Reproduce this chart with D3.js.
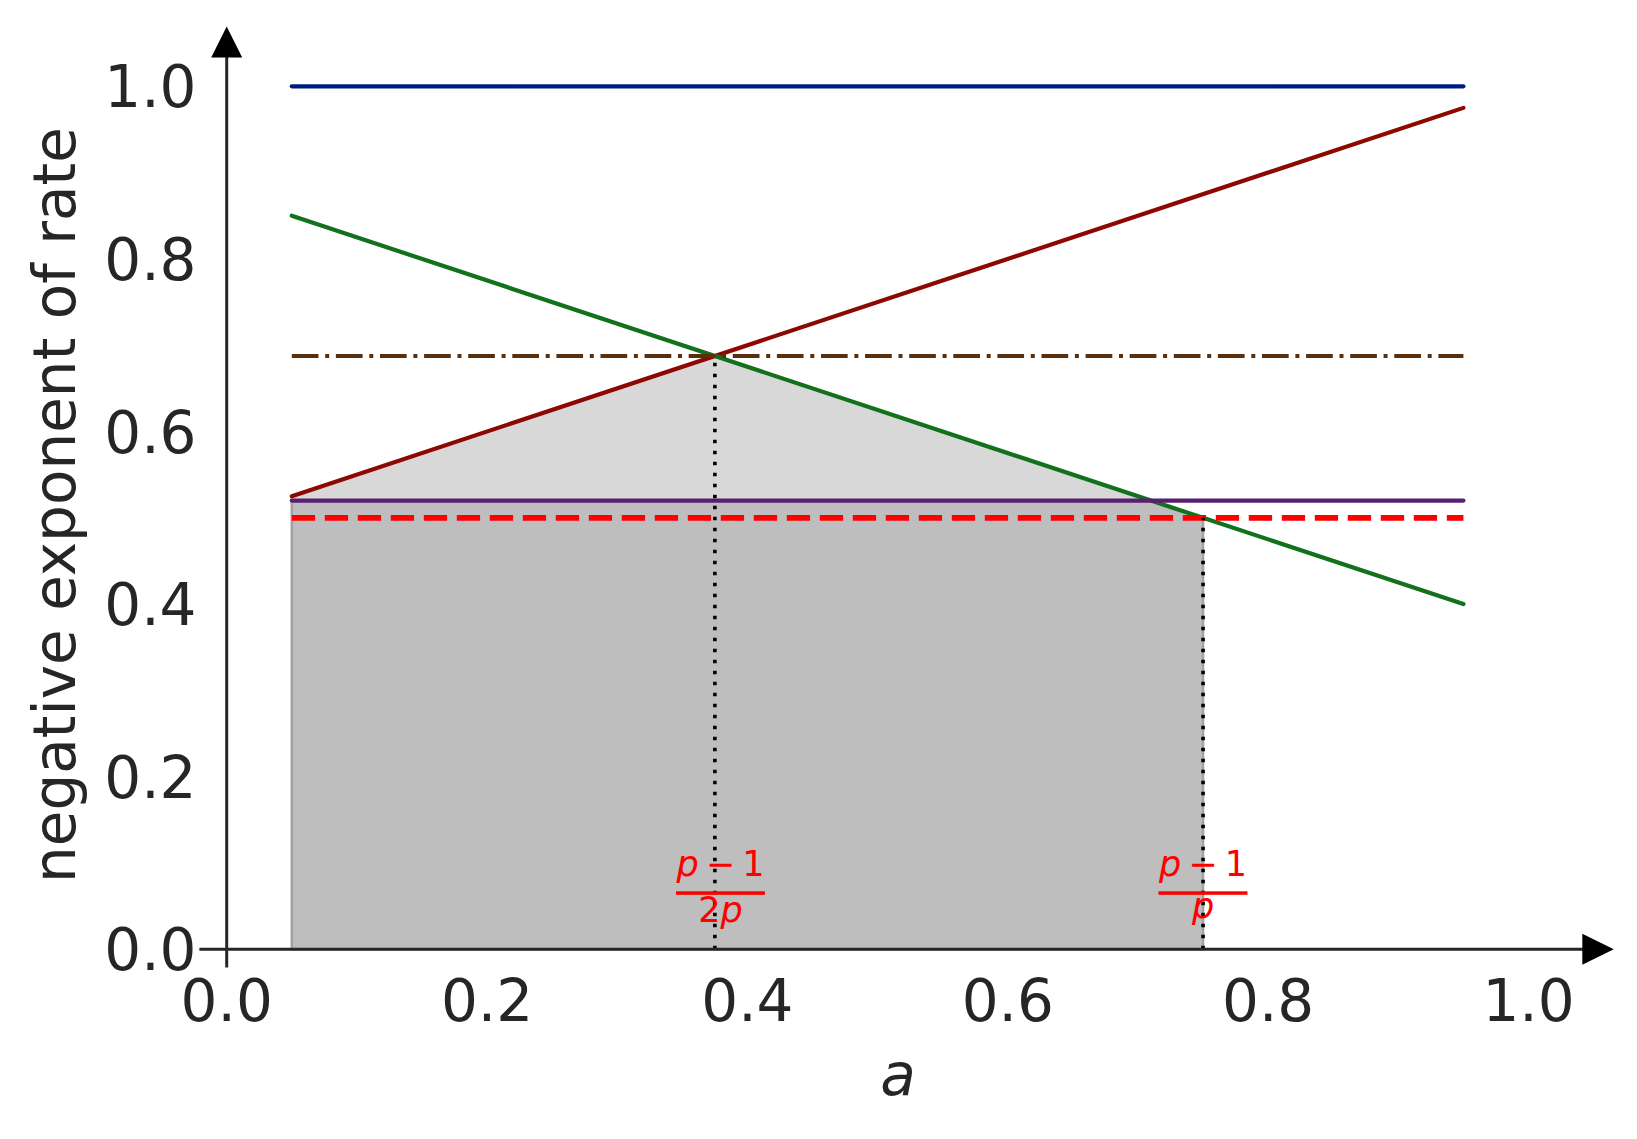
<!DOCTYPE html>
<html>
<head>
<meta charset="utf-8">
<script src="https://cdn.jsdelivr.net/npm/d3@7"></script>
<style>
  html, body { margin: 0; padding: 0; background: #ffffff; }
  svg { display: block; }
  text { font-family: "DejaVu Sans", sans-serif; }
</style>
</head>
<body>
<svg id="chart" width="1637" height="1139"></svg>
<script>
// ---------------- data ----------------
const aEnds = [0.05, 0.95];
const blueVals = [1.0, 1.0];
const redVals = [0.525, 0.975];
const greenVals = [0.85, 0.40];
const brownVals = [0.6875, 0.6875];
const purpleVals = [0.52, 0.52];
const redDashVals = [0.5, 0.5];

// light gray region (between purple level and min(red, green))
const lightA = [0.05, 0.05, 0.375, 0.71];
const lightTop = [0.52, 0.525, 0.6875, 0.52];
const lightBottom = [0.52, 0.52, 0.52, 0.52];

// dark gray region
const darkA = [0.05, 0.71, 0.75];
const darkTop = [0.52, 0.52, 0.5];

// vertical markers
const markerA = [0.375, 0.75];
const markerTop = [0.6875, 0.5];
const markerNum = ["p", "p"];
const markerDen = ["2p", "p"];

const xTicks = [0.0, 0.2, 0.4, 0.6, 0.8, 1.0];
const yTicks = [0.0, 0.2, 0.4, 0.6, 0.8, 1.0];
const xTickLabels = ["0.0", "0.2", "0.4", "0.6", "0.8", "1.0"];
const yTickLabels = ["0.0", "0.2", "0.4", "0.6", "0.8", "1.0"];

// ---------------- setup ----------------
const svg = d3.select("#chart");
const x = d3.scaleLinear().domain([0, 1]).range([226.7, 1528.5]);
const y = d3.scaleLinear().domain([0, 1]).range([949.3, 86.3]);

const toPts = (xs, ys) => xs.map((v, i) => [v, ys[i]]);
const line = d3.line().x(d => x(d[0])).y(d => y(d[1]));

// fills
const lightArea = d3.area()
  .x(d => x(d.a)).y0(d => y(d.lo)).y1(d => y(d.hi));
svg.append("path")
  .attr("d", lightArea(lightA.map((a, i) => ({a, lo: lightBottom[i], hi: lightTop[i]}))))
  .attr("fill", "#d8d8d8");

const darkArea = d3.area()
  .x(d => x(d.a)).y0(() => y(0)).y1(d => y(d.hi));
svg.append("path")
  .attr("d", darkArea(darkA.map((a, i) => ({a, hi: darkTop[i]}))))
  .attr("fill", "#bebebe")
  .attr("stroke", "#a2a2a2")
  .attr("stroke-width", 2.5);

// lines
function drawLine(vals, color, width, dash) {
  const p = svg.append("path")
    .datum(toPts(aEnds, vals))
    .attr("d", line)
    .attr("fill", "none")
    .attr("stroke", color)
    .attr("stroke-width", width);
  if (dash) {
    p.attr("stroke-dasharray", dash).attr("stroke-linecap", "butt");
  } else {
    p.attr("stroke-linecap", "round");
  }
}
drawLine(blueVals, "#001c7f", 4.2);
drawLine(redVals, "#8c0800", 4.2);
drawLine(greenVals, "#12711c", 4.2);
drawLine(brownVals, "#592f0d", 4.2, "26.7,6.7,4,6.7");
drawLine(purpleVals, "#591e71", 4.2);
drawLine(redDashVals, "#ff0000", 5.8, "23.3,9.7");

// dotted vertical markers
markerA.forEach((a, i) => {
  svg.append("line")
    .attr("x1", x(a)).attr("x2", x(a))
    .attr("y1", y(0)).attr("y2", y(markerTop[i]))
    .attr("stroke", "#000")
    .attr("stroke-width", 3.6)
    .attr("stroke-dasharray", "3.6,7.4");
});

// axes
const axisColor = "#262626";
svg.append("line")
  .attr("x1", x(-0.021)).attr("x2", x(1.054))
  .attr("y1", y(0)).attr("y2", y(0))
  .attr("stroke", axisColor).attr("stroke-width", 3);
svg.append("line")
  .attr("x1", x(0)).attr("x2", x(0))
  .attr("y1", y(-0.021)).attr("y2", y(1.052))
  .attr("stroke", axisColor).attr("stroke-width", 3);

// arrowheads
const xTip = x(1.054) + 15, yTip = y(1.052) - 15;
svg.append("path")
  .attr("d", `M${xTip},${y(0)} L${xTip - 31.5},${y(0) - 15.5} L${xTip - 31.5},${y(0) + 15.5} Z`)
  .attr("fill", "#000");
svg.append("path")
  .attr("d", `M${x(0)},${yTip} L${x(0) - 15.5},${yTip + 31} L${x(0) + 15.5},${yTip + 31} Z`)
  .attr("fill", "#000");

// tick labels
svg.selectAll(".xt").data(xTicks).enter().append("text")
  .attr("x", d => x(d)).attr("y", 1021)
  .attr("text-anchor", "middle")
  .attr("font-size", 58).attr("fill", axisColor)
  .text((d, i) => xTickLabels[i]);
svg.selectAll(".yt").data(yTicks).enter().append("text")
  .attr("x", 196.5).attr("y", d => y(d))
  .attr("dy", "0.364em")
  .attr("text-anchor", "end")
  .attr("font-size", 58).attr("fill", axisColor)
  .text((d, i) => yTickLabels[i]);

// axis labels
svg.append("text")
  .attr("x", 898).attr("y", 1095)
  .attr("text-anchor", "middle")
  .attr("font-size", 58).attr("font-style", "italic").attr("fill", axisColor)
  .text("a");
svg.append("text")
  .attr("transform", "translate(75,505) rotate(-90)")
  .attr("text-anchor", "middle")
  .attr("font-size", 58).attr("fill", axisColor)
  .text("negative exponent of rate");

// fraction labels
const fracCenters = [720.5, 1203];
const denBase = [921.5, 917.5];
markerA.forEach((a, i) => {
  const cx = fracCenters[i];
  const g = svg.append("g").attr("fill", "#ff0000").attr("font-size", 35);
  const num = g.append("text").attr("x", cx).attr("y", 876).attr("text-anchor", "middle");
  num.append("tspan").attr("font-style", "italic").text(markerNum[i]);
  num.append("tspan").attr("dx", 7).text("\u2212");
  num.append("tspan").attr("dx", 7).text("1");
  g.append("rect")
    .attr("x", cx - 44.5).attr("y", 891.3)
    .attr("width", 89).attr("height", 3.5);
  const den = g.append("text").attr("x", cx).attr("y", denBase[i]).attr("text-anchor", "middle");
  const d = markerDen[i];
  if (d.startsWith("2")) {
    den.append("tspan").text("2");
    den.append("tspan").attr("font-style", "italic").text(d.slice(1));
  } else {
    den.append("tspan").attr("font-style", "italic").text(d);
  }
});
</script>
</body>
</html>
